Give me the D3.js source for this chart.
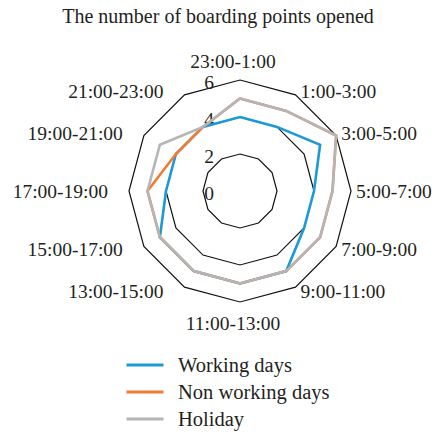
<!DOCTYPE html>
<html>
<head>
<meta charset="utf-8">
<script src="https://cdn.jsdelivr.net/npm/d3@7/dist/d3.min.js"></script>
<style>
  html, body { margin: 0; padding: 0; background: #fff; }
  svg { display: block; }
  text { font-family: "Liberation Serif", "Times New Roman", serif; fill: #231f20; }
</style>
</head>
<body>
<svg id="chart" width="436" height="432"></svg>
<script>
const categories = ["23:00-1:00", "1:00-3:00", "3:00-5:00", "5:00-7:00", "7:00-9:00", "9:00-11:00",
                    "11:00-13:00", "13:00-15:00", "15:00-17:00", "17:00-19:00", "19:00-21:00", "21:00-23:00"];
const workingDays    = [4, 4, 5, 4, 4, 5, 5, 5, 5, 4, 4, 4];
const nonWorkingDays = [5, 5, 6, 5, 5, 5, 5, 5, 5, 5, 4, 4];
const holiday        = [5, 5, 6, 5, 5, 5, 5, 5, 5, 5, 5, 4];
const seriesNames  = ["Working days", "Non working days", "Holiday"];
const seriesColors = ["#1b9ad6", "#f47a30", "#b5b5b8"];
const ringTicks = [2, 4, 6];
const tickLabels = [0, 2, 4, 6];
const title = "The number of boarding points opened";

const svg = d3.select("#chart");
const cx = 240, cy = 191, R = 111;
const r = d3.scaleLinear().domain([0, 6]).range([0, R]);
const step = 2 * Math.PI / categories.length;
const angleOf = (c) => categories.indexOf(c) * step;

const g = svg.append("g").attr("transform", `translate(${cx},${cy})`);

// title
svg.append("text").attr("x", 218).attr("y", 23).attr("text-anchor", "middle")
  .attr("font-size", 20).text(title);

// rings
const ringLine = d3.lineRadial().curve(d3.curveLinearClosed);
g.selectAll("path.ring").data(ringTicks).join("path")
  .attr("class", "ring")
  .attr("d", t => ringLine(categories.map(c => [angleOf(c), r(t)])))
  .attr("fill", "none").attr("stroke", "#111").attr("stroke-width", 1.2);

// tick labels
g.selectAll("text.tick").data(tickLabels).join("text")
  .attr("class", "tick")
  .attr("x", -31)
  .attr("y", t => -r(t) + 8.5)
  .attr("text-anchor", "middle")
  .attr("font-size", 19.5)
  .text(t => t);

// series
const series = [workingDays, nonWorkingDays, holiday];
const line = d3.lineRadial().curve(d3.curveLinearClosed);
series.forEach((vals, i) => {
  g.append("path")
    .attr("d", line(vals.map((v, k) => [angleOf(categories[k]), r(v)])))
    .attr("fill", "none")
    .attr("stroke", seriesColors[i])
    .attr("stroke-width", 2.6)
    .attr("stroke-linejoin", "miter");
});

// axis labels
g.selectAll("text.cat").data(categories).join("text")
  .attr("class", "cat")
  .attr("font-size", 19.5)
  .each(function(c) {
    const a = angleOf(c);
    const s = Math.sin(a), co = Math.cos(a);
    const vx = R * s, vy = -R * co;
    let x, y, anchor;
    if (Math.abs(s) < 0.01) {
      anchor = "middle"; x = vx - 7;
      y = co > 0 ? vy - 12 : vy + 28;
    } else {
      anchor = s > 0 ? "start" : "end";
      x = vx + (s > 0 ? 12.5 : -13.5) - 7.5;
      y = vy + 7 - 5 * co;
    }
    d3.select(this).attr("x", x).attr("y", y).attr("text-anchor", anchor).text(c);
  });

// legend
const legend = svg.append("g");
seriesNames.forEach((n, i) => {
  const y = 365 + i * 27;
  legend.append("line").attr("x1", 126.5).attr("x2", 163.5).attr("y1", y).attr("y2", y)
    .attr("stroke", seriesColors[i]).attr("stroke-width", 3);
  legend.append("text").attr("x", 178).attr("y", y + 6.5).attr("font-size", 20.5).text(n);
});
</script>
</body>
</html>
